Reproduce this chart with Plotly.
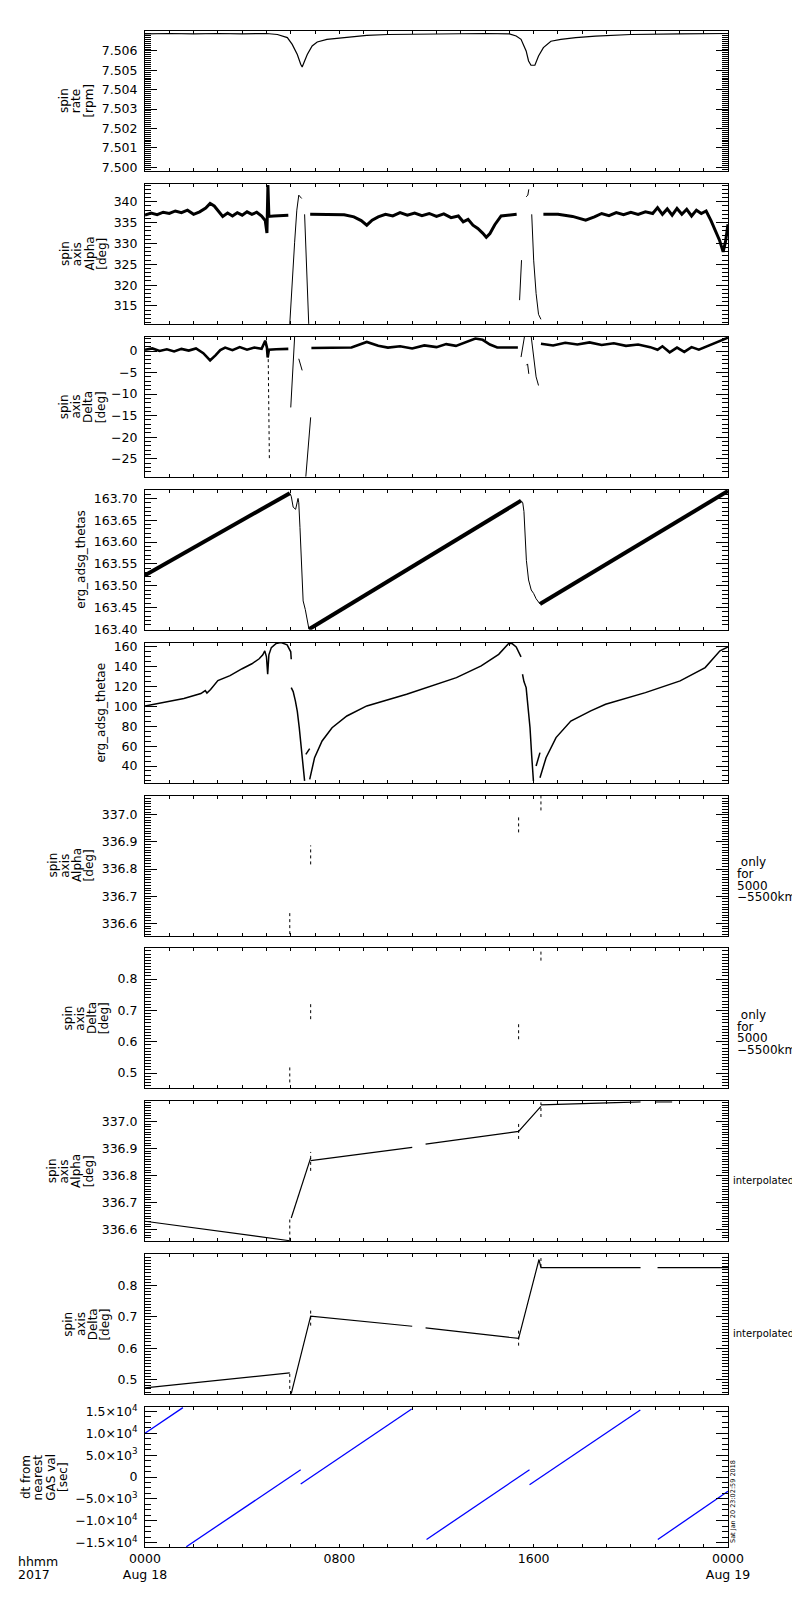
import plotly.graph_objects as go

# all times in hours since 0000 UT, Aug 18 2017

# spin rate [rpm]
rate_t = [0, 1, 2, 3, 4, 5, 5.45, 5.86, 6.06, 6.27, 6.41, 6.47, 6.57, 6.68, 6.88, 7.09, 7.49, 7.9, 8.72,
          9.13, 10, 12, 14, 15.0, 15.28, 15.48, 15.69, 15.79, 15.89, 16.05, 16.2, 16.4, 16.71, 17.12, 17.73,
          18.55, 20, 22, 24]
rate_v = [7.50688, 7.50690, 7.50688, 7.50690, 7.50688, 7.50690, 7.50685, 7.50669, 7.50634, 7.50582, 7.50531,
          7.50517, 7.50548, 7.50582, 7.50626, 7.50646, 7.50660, 7.50665, 7.50677, 7.50680, 7.50685, 7.50688,
          7.50690, 7.50688, 7.50677, 7.50660, 7.50600, 7.50548, 7.50526, 7.50526, 7.50574, 7.50617, 7.50650,
          7.50660, 7.50669, 7.50677, 7.50685, 7.50688, 7.50690]

# spin axis alpha [deg]
alpha_t = [0, 0.25, 0.5, 0.75, 1.0, 1.25, 1.5, 1.75, 2.0, 2.25, 2.5, 2.68, 2.85, 3.0, 3.2, 3.4, 3.6, 3.8, 4.0,
           4.2, 4.4, 4.6, 4.8, 4.95, 5.02, 5.06, 5.1, 5.3, 5.6, 5.9, None,
           6.8, 7.5, 8.2, 8.6, 8.9, 9.13, 9.35, 9.6, 9.9, 10.2, 10.5, 10.8, 11.1, 11.4, 11.7, 12.0, 12.3, 12.6,
           12.9, 13.1, 13.3, 13.5, 13.7, 13.9, 14.05, 14.2, 14.4, 14.66, 15.0, 15.3, None,
           16.4, 17.0, 17.6, 18.14, 18.5, 18.8, 19.1, 19.4, 19.7, 20.0, 20.3, 20.6, 20.9, 21.1, 21.3, 21.5,
           21.7, 21.9, 22.1, 22.3, 22.5, 22.7, 22.9, 23.1, 23.3, 23.5, 23.65, 23.8, 23.9, 24]
alpha_v = [336.8, 337.3, 336.9, 337.5, 337.2, 337.8, 337.4, 338.0, 337.0, 337.6, 338.5, 339.6, 339.0, 337.8,
           336.5, 337.3, 336.6, 337.4, 336.8, 337.6, 337.0, 337.5, 336.6, 335.5, 332.5, 344.0, 336.5, 336.6,
           336.7, 336.8, None,
           337.0, 337.0, 336.9, 336.4, 335.5, 334.4, 335.6, 336.4, 337.0, 336.6, 337.4, 336.8, 337.3, 336.7,
           337.2, 336.5, 337.1, 336.2, 336.6, 335.2, 335.8, 334.4, 333.6, 332.5, 331.5, 332.4, 334.5, 336.6,
           336.9, 337.0, None,
           337.0, 337.0, 336.5, 335.6, 336.4, 337.2, 336.7, 337.4, 336.9, 337.5, 337.0, 337.6, 337.2, 338.6,
           337.0, 338.3, 336.8, 338.4, 337.0, 338.2, 336.6, 338.0, 337.2, 337.8, 335.5, 333.0, 330.8, 328.0,
           330.5, 334.6]
alpha_spike_t = [5.96, 6.06, 6.16, 6.25, 6.33, 6.45, None, 6.57, 6.62, 6.68, 6.74, None,
                 15.42, 15.5, None, 15.69, 15.76, 15.8, None, 15.92, 16.0, 16.1, 16.2, 16.3]
alpha_spike_v = [310.7, 322.0, 330.3, 338.0, 341.6, 340.8, None, 337.0, 330.0, 322.0, 310.7, None,
                 316.4, 326.0, None, 341.2, 341.6, 343.0, None, 337.0, 326.0, 318.0, 313.0, 311.8]

# spin axis delta [deg]
delta_t = [0, 0.3, 0.6, 0.9, 1.2, 1.5, 1.8, 2.1, 2.4, 2.68, 2.9, 3.1, 3.3, 3.6, 3.9, 4.2, 4.5, 4.8, 4.95, 5.02,
           5.05, 5.1, 5.4, 5.9, None,
           6.85, 8.5, 9.13, 9.6, 10.0, 10.5, 11.0, 11.5, 12.0, 12.4, 12.8, 13.2, 13.6, 13.9, 14.2, 14.5, 15.0,
           15.35, None,
           16.3, 16.8, 17.3, 17.8, 18.3, 18.8, 19.3, 19.8, 20.3, 20.8, 21.1, 21.3, 21.6, 21.9, 22.2, 22.5,
           22.8, 23.1, 23.4, 23.7, 24]
delta_v = [0.3, 0.6, 0.0, 0.4, -0.1, 0.5, 0.1, 0.6, -0.5, -2.2, -1.0, 0.2, 0.8, 0.2, 0.9, 0.3, 0.8, 0.5, 2.4,
           0.8, -1.5, 0.3, 0.4, 0.5, None,
           0.7, 0.8, 2.1, 1.2, 0.8, 1.1, 0.6, 1.3, 0.9, 1.6, 1.2, 2.0, 2.9, 2.6, 1.5, 0.8, 0.7, 0.8, None,
           1.7, 1.3, 1.9, 1.5, 2.0, 1.4, 1.8, 1.2, 1.5, 0.9, 0.3, 1.1, -0.3, 0.8, -0.2, 0.9, 0.3, 1.0, 1.6,
           2.4, 3.1]
delta_spike_t = [6.16, 6.1, 6.05, 6.0, None, 6.33, 6.47, None, 6.82, 6.75, 6.68, 6.62, None,
                 15.48, 15.62, None, 15.7, 15.75, 15.8, None, 15.9, 16.0, 16.1, 16.2]
delta_spike_v = [3.3, -3.0, -8.0, -13.1, None, -1.8, -4.5, None, -15.4, -20.0, -25.0, -29.2, None,
                 -1.4, 3.3, None, -3.3, -3.0, -5.3, None, 3.3, -2.0, -6.0, -8.0]
delta_dot_t = [5.07, 5.12]
delta_dot_v = [-0.5, -25.0]

# erg_adsg_thetas
thetas_t = [0, 5.96, None, 6.75, 15.48, None, 16.26, 24]
thetas_v = [163.524, 163.712, None, 163.40, 163.695, None, 163.458, 163.717]
thetas_drop_t = [5.96, 6.02, 6.1, 6.2, 6.3, 6.33, 6.38, 6.43, 6.47, 6.51, 6.6, 6.7, 6.75, None,
                 15.48, 15.55, 15.6, 15.7, 15.79, 15.9, 16.0, 16.1, 16.26]
thetas_drop_v = [163.712, 163.705, 163.68, 163.675, 163.70, 163.69, 163.633, 163.55, 163.49, 163.465, 163.445,
                 163.41, 163.40, None,
                 163.695, 163.69, 163.67, 163.558, 163.513, 163.49, 163.482, 163.47, 163.458]

# erg_adsg_thetae
thetae_t = [0, 0.8, 1.6, 2.3, 2.48, 2.55, 2.7, 3.0, 3.5, 4.0, 4.4, 4.7, 4.85, 4.93, 5.0, 5.05, 5.1, 5.2, 5.4,
            5.6, 5.85, 6.0, 6.02, None,
            6.02, 6.1, 6.19, 6.27, 6.35, 6.42, 6.47, 6.52, 6.57, None, 6.62, 6.78, None,
            6.78, 6.88, 6.98, 7.29, 7.7, 8.31, 9.13, 10.77, 12.82, 13.84, 14.56, 14.97, 15.1, 15.28, 15.48, None,
            15.54, 15.6, 15.69, 15.77, 15.85, 15.92, 15.99, None, 16.1, 16.26, None,
            16.26, 16.51, 16.92, 17.53, 18.35, 18.96, 20.6, 22.03, 23.06, 23.67, 24]
thetae_v = [100.5, 104, 108, 113, 116, 113.5, 117, 126, 131, 138, 143, 148, 152, 156, 150, 132.4, 152, 159.3,
            163.5, 164.3, 162, 155, 147.5, None,
            119, 115, 105.6, 95, 78.6, 60, 48.4, 35, 25, None, 51.7, 57.5, None,
            26.5, 38, 48.4, 65.2, 78.6, 90.4, 100.5, 112.2, 129, 140.8, 152.5, 163.3, 163.5, 160, 150, None,
            132.4, 125, 119, 100, 78.6, 50, 25, None, 40, 53.5, None,
            28.2, 48.4, 68.6, 85.3, 95.5, 102.2, 113.9, 125.7, 139.1, 156, 160]

# spin axis alpha / delta, only for 5000-5500 km
only_t = [5.96, 5.96, None, 6.82, 6.82, None, 15.38, 15.38, None, 16.3, 16.3]
only_alpha = [336.56, 336.647, None, 336.817, 336.887, None, 336.935, 337.0, None, 337.016, 337.07]
only_delta = [0.470, 0.523, None, 0.672, 0.72, None, 0.608, 0.656, None, 0.859, 0.893]

# interpolated
interp_alpha_t = [0, 5.96, None, 6.02, 6.82, None, 6.82, 11.0, None, 11.55, 15.38, 16.3, None,
                  16.3, 19.17, 20.4, None, 21.0, 21.7]
interp_alpha_v = [336.631, 336.559, None, 336.643, 336.865, None, 336.855, 336.904, None, 336.916, 336.963,
                  337.055, None, 337.061, 337.067, 337.072, None, 337.072, 337.072]
interp_delta_t = [0, 5.96, None, 6.02, 6.82, 11.0, None, 11.55, 15.38, 16.22, 16.3, 20.4, None, 21.1, 24]
interp_delta_v = [0.473, 0.521, None, 0.455, 0.702, 0.670, None, 0.665, 0.631, 0.883, 0.857, 0.857, None,
                  0.857, 0.857]

# dt from nearest GAS val [sec]
dt_t = [0, 1.56, None, 1.70, 6.41, None, 6.41, 10.98, None, 11.59, 15.83, None, 15.83, 20.39, None, 21.11, 24]
dt_v = [10023, 15877, None, -15945, 1670, None, -1594, 15558, None, -14282, 1670, None, -1746, 15330, None,
        -14282, -3260]
dt_ticks = [-15000, -10000, -5000, 0, 5000, 10000, 15000]
dt_ticktext = ["\u22121.5\u00d710<sup>4</sup>", "\u22121.0\u00d710<sup>4</sup>", "\u22125.0\u00d710<sup>3</sup>",
               "0", "5.0\u00d710<sup>3</sup>", "1.0\u00d710<sup>4</sup>", "1.5\u00d710<sup>4</sup>"]

rate_ticks = [7.500, 7.501, 7.502, 7.503, 7.504, 7.505, 7.506]
delta_int_ticks = [0.5, 0.6, 0.7, 0.8]

x_ticks = [0, 8, 16, 24]
x_ticktext = ["0000<br>Aug 18", "0800", "1600", "0000<br>Aug 19"]

FONT = "DejaVu Sans"
W, H = 800, 1600
ML, MR, MT, MB = 137, 80, 23, 61
PW = W - ML - MR
PH = H - MT - MB


def px_x(px):
    return (px - ML) / PW


def px_y(py):
    return (H - MB - py) / PH


fig = go.Figure()


def add(panel, t, v, width=1.0, color="black", dash="solid"):
    sfx = "" if panel == 1 else str(panel)
    fig.add_trace(go.Scatter(x=t, y=v, mode="lines", xaxis="x" + sfx, yaxis="y" + sfx,
                             line=dict(color=color, width=width, dash=dash), hoverinfo="skip"))


add(1, rate_t, rate_v, 1.2)
add(2, alpha_t, alpha_v, 3)
add(2, alpha_spike_t, alpha_spike_v, 1)
add(3, delta_t, delta_v, 2.6)
add(3, delta_spike_t, delta_spike_v, 1)
add(3, delta_dot_t, delta_dot_v, 1, dash="dot")
add(4, thetas_t, thetas_v, 4)
add(4, thetas_drop_t, thetas_drop_v, 1)
add(5, thetae_t, thetae_v, 1.5)
add(6, only_t, only_alpha, 1, dash="dot")
add(7, only_t, only_delta, 1, dash="dot")
add(8, interp_alpha_t, interp_alpha_v, 1.2)
add(8, only_t, only_alpha, 1, dash="dot")
add(9, interp_delta_t, interp_delta_v, 1.2)
add(9, only_t, only_delta, 1, dash="dot")
add(10, dt_t, dt_v, 1.3, color="#0000ff")

# y axis settings per panel: range, major ticks, minor dtick, format
yset = [
    dict(range=[7.4998, 7.50703], vals=rate_ticks, minor=0.0001, m0=7.5, fmt=".3f"),
    dict(range=[310.7, 344.3], dtick=5, tick0=0, minor=1, m0=0, fmt="d"),
    dict(range=[-29.2, 3.3], dtick=5, tick0=0, minor=1, m0=0, fmt="d"),
    dict(range=[163.399, 163.72], dtick=0.05, tick0=163.4, minor=0.01, m0=163.4, fmt=".2f"),
    dict(range=[23.3, 164.3], dtick=20, tick0=0, minor=5, m0=0, fmt="d"),
    dict(range=[336.555, 337.071], dtick=0.1, tick0=336.6, minor=0.01, m0=336.6, fmt=".1f"),
    dict(range=[0.451, 0.898], dtick=0.1, tick0=0.5, minor=0.01, m0=0.5, fmt=".1f"),
    dict(range=[336.557, 337.074], dtick=0.1, tick0=336.6, minor=0.01, m0=336.6, fmt=".1f"),
    dict(range=[0.453, 0.9], vals=delta_int_ticks, minor=0.01, m0=0.5, fmt=".1f"),
    dict(range=[-16000, 16000], vals=dt_ticks, text=dt_ticktext, minor=1250, m0=0, fmt=None),
]

# y titles: (lines, x of first line in px)
ytitles = [
    (["spin", "rate", "[rpm]"], 56),
    (["spin", "axis", "Alpha", "[deg]"], 57),
    (["spin", "axis", "Delta", "[deg]"], 55.5),
    (["erg_adsg_thetas"], 73),
    (["erg_adsg_thetae"], 93),
    (["spin", "axis", "Alpha", "[deg]"], 44),
    (["spin", "axis", "Delta", "[deg]"], 60),
    (["spin", "axis", "Alpha", "[deg]"], 44),
    (["spin", "axis", "Delta", "[deg]"], 60.5),
    (["dt from", "nearest", "GAS val", "[sec]"], 18),
]

layout = dict(width=W, height=H, margin=dict(l=ML, r=MR, t=MT, b=MB),
              paper_bgcolor="white", plot_bgcolor="white", showlegend=False,
              font=dict(family=FONT, size=12.5, color="black"))
annotations = []

for i in range(10):
    top = MT + 152.9 * i
    bot = top + 140
    sfx = "" if i == 0 else str(i + 1)
    ys = yset[i]
    xa = dict(domain=[0, 1], anchor="y" + sfx, range=[0, 24], showline=True, linecolor="black", linewidth=1,
              mirror="ticks", ticks="inside", ticklen=3, tickcolor="black", tickmode="array",
              tickvals=x_ticks, showticklabels=(i == 9), showgrid=False, zeroline=False,
              minor=dict(tickmode="linear", dtick=1, tick0=0, ticks="inside", ticklen=3, tickcolor="black",
                         showgrid=False))
    if i == 9:
        xa["ticktext"] = x_ticktext
    ya = dict(domain=[max(0, px_y(bot)), min(1, px_y(top))], anchor="x" + sfx, range=ys["range"],
              showline=True, linecolor="black", linewidth=1, mirror="ticks", ticks="inside", ticklen=11.7,
              tickcolor="black", showgrid=False, zeroline=False, ticklabelstandoff=4,
              minor=dict(tickmode="linear", dtick=ys["minor"], tick0=ys["m0"], ticks="inside", ticklen=5.8,
                         tickcolor="black", showgrid=False))
    if "vals" in ys:
        ya.update(tickmode="array", tickvals=ys["vals"])
        if "text" in ys:
            ya["ticktext"] = ys["text"]
        else:
            ya["tickformat"] = ys["fmt"]
    else:
        ya.update(tickmode="linear", dtick=ys["dtick"], tick0=ys["tick0"], tickformat=ys["fmt"])
    layout["xaxis" + sfx] = xa
    layout["yaxis" + sfx] = ya

    lines, x0 = ytitles[i]
    yc = px_y((top + bot) / 2)
    for k, txt in enumerate(lines):
        annotations.append(dict(text=txt, x=px_x(x0 + 12.3 * k), y=yc, xref="paper", yref="paper",
                                textangle=-90, xanchor="center", yanchor="middle", showarrow=False,
                                font=dict(size=12)))

    if i in (5, 6):
        for k, txt in enumerate([" only", "for", "5000", "\u22125500km"]):
            annotations.append(dict(text=txt, x=px_x(727), y=px_y((top + bot) / 2 - 3 + 11.5 * k),
                                    xref="paper", yref="paper", xanchor="left", yanchor="middle",
                                    showarrow=False, font=dict(size=12)))
    if i in (7, 8):
        annotations.append(dict(text="interpolated", x=px_x(723), y=px_y((top + bot) / 2 + 9),
                                xref="paper", yref="paper", xanchor="left", yanchor="middle",
                                showarrow=False, font=dict(size=10)))

annotations.append(dict(text="hhmm", x=px_x(8), y=px_y(1553), xref="paper", yref="paper", xanchor="left",
                        yanchor="middle", showarrow=False, font=dict(size=12.5)))
annotations.append(dict(text="2017", x=px_x(8), y=px_y(1566), xref="paper", yref="paper", xanchor="left",
                        yanchor="middle", showarrow=False, font=dict(size=12.5)))
annotations.append(dict(text="Sat Jan 20 23:02:59 2018", x=px_x(725), y=px_y(1494), xref="paper",
                        yref="paper", textangle=-90, xanchor="center", yanchor="middle", showarrow=False,
                        font=dict(size=6.5)))
layout["annotations"] = annotations

fig.update_layout(layout)
fig.write_html("out.html")
